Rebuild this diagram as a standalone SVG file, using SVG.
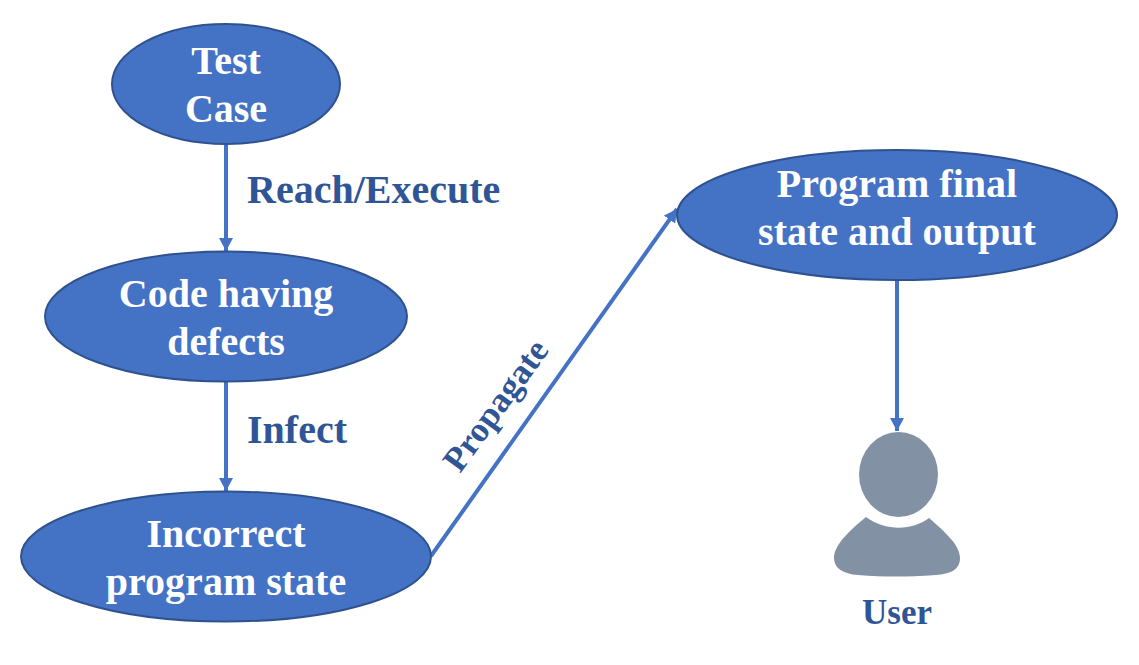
<svg xmlns="http://www.w3.org/2000/svg" width="1139" height="665" viewBox="0 0 1139 665">
<style>
.n{fill:#4472c4;stroke:#2f528f;stroke-width:2}
.t{font-family:"Liberation Serif",serif;font-weight:bold;font-size:40px;fill:#fff;text-anchor:middle}
.l{font-family:"Liberation Serif",serif;font-weight:bold;font-size:40px;fill:#2f5597}
.c{fill:none;stroke:#4472c4;stroke-width:4}
.u{fill:#8391a5}
</style>
<defs><marker id="a" markerUnits="userSpaceOnUse" markerWidth="14" markerHeight="14" refX="13" refY="7" orient="auto"><path d="M0 0L13 7L0 14z" fill="#4472c4"/></marker></defs>
<rect width="1139" height="665" fill="#fff"/>
<g id="connectors">
<path class="c" marker-end="url(#a)" d="M226 144V251"/>
<path class="c" marker-end="url(#a)" d="M226 382V491"/>
<path class="c" marker-end="url(#a)" d="M431 556L677 209"/>
<path class="c" marker-end="url(#a)" d="M897 280V431"/>
</g>
<g id="test-case"><ellipse class="n" cx="226" cy="84" rx="114" ry="60"/><text class="t" x="226" y="74">Test</text><text class="t" x="226" y="122">Case</text></g>
<g id="code"><ellipse class="n" cx="226" cy="316.500" rx="181" ry="65"/><text class="t" x="226" y="307">Code having</text><text class="t" x="226" y="355">defects</text></g>
<g id="incorrect"><ellipse class="n" cx="226" cy="556.500" rx="205" ry="65"/><text class="t" x="226" y="547">Incorrect</text><text class="t" x="226" y="595">program state</text></g>
<g id="final"><ellipse class="n" cx="897" cy="215" rx="220" ry="65"/><text class="t" x="897" y="197">Program final</text><text class="t" x="897" y="245">state and output</text></g>
<g id="user"><ellipse class="u" cx="898.500" cy="474.500" rx="39.500" ry="42.500"/><path class="u" d="M866 517C885 531 912 531 929 518C945 532 960 545 960 558C960 570 950 574 936 575C905 577 885 577 858 575C843 574 834 568 834 558C834 545 850 530 866 517Z"/><text class="l" x="897" y="624" text-anchor="middle" style="font-size:35px">User</text></g>
<g id="labels">
<text class="l" x="247" y="203">Reach/Execute</text>
<text class="l" x="247" y="443">Infect</text>
<text class="l" transform="translate(460 474) rotate(-54)" style="font-size:35px">Propagate</text>
</g>
</svg>
